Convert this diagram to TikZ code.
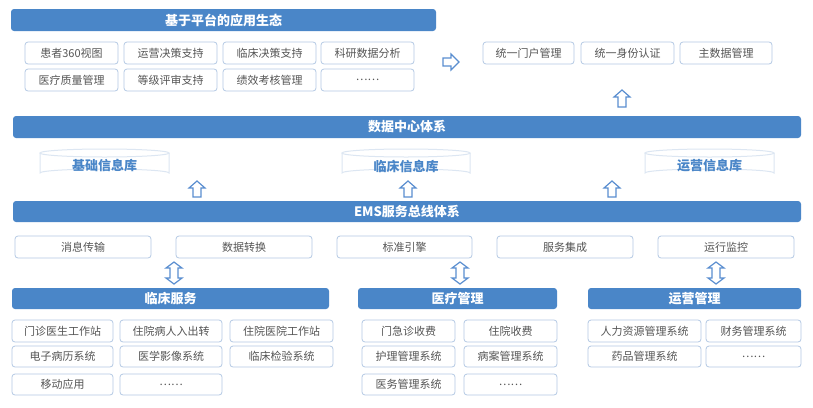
\documentclass[tikz,border=0pt]{standalone}
\usepackage{fontspec}
\setmainfont{Noto Sans CJK SC}
\definecolor{barblue}{HTML}{4A86C8}
\definecolor{bord}{HTML}{B5C9E4}
\definecolor{txt}{HTML}{555555}
\definecolor{arr}{HTML}{5A8ED0}
\definecolor{cyl}{HTML}{DCE6F2}
\tikzset{
 bar/.style={fill=barblue,draw=none,rounded corners=3pt,text=white,font=\fontsize{13}{15}\selectfont\bfseries},
 bx/.style={draw=bord,line width=0.8pt,rounded corners=3pt,text=txt,font=\fontsize{11}{13}\selectfont},
 harr/.style={draw=arr,line width=1.2pt,fill=white,line join=miter},
}
\newcommand{\bbox}[6]{\node[#1,minimum width={(#4-#2)*1pt},minimum height={(#6-#5)*1pt},inner sep=0pt] at ({(#2+#4)/2},{(#5+#6)/2}) {#3};}
\newcommand{\myuparr}[3]{%
 \draw[harr] (#1,#2) -- ++(8,7) -- ++(-4,0) -- (#1+4,#3) -- (#1-4,#3) -- (#1-4,#2+7) -- ++(-4,0) -- cycle;}
\newcommand{\mydarr}[3]{%
 \draw[harr] (#1,#2) -- ++(8,6) -- ++(-4,0) -- (#1+4,#3-6) -- ++(4,0) -- (#1,#3) -- (#1-8,#3-6) -- ++(4,0) -- (#1-4,#2+6) -- ++(-4,0) -- cycle;}
\newcommand{\mycyl}[4]{%
 \draw[draw=cyl,line width=1pt,fill=white] (#1,153) -- (#1,173) arc[start angle=180,end angle=360,x radius={(#2-#1)/2},y radius=4] -- (#2,153);
 \draw[draw=cyl,line width=1pt,fill=white] ({(#1+#2)/2},153) ellipse[x radius={(#2-#1)/2},y radius=4];
 \node[text=barblue,font=\fontsize{13}{15}\selectfont\bfseries] (#4) at ({(#1+#2)/2},166) {#3};}
\begin{document}
\begin{tikzpicture}[x=1pt,y=-1pt]
\useasboundingbox[fill=white] (0,0) rectangle (813,407);
\bbox{bar}{11}{基于平台的应用生态}{436}{9}{31}
\foreach \a/\b/\t in {25/118/患者360视图,124/217/运营决策支持,223/316/临床决策支持,321/414/科研数据分析}{\bbox{bx}{\a}{\t}{\b}{42}{64}}
\foreach \a/\b/\t in {25/118/医疗质量管理,124/217/等级评审支持,223/316/绩效考核管理,321/414/……}{\bbox{bx}{\a}{\t}{\b}{69}{91}}
\draw[harr] (459,62) -- (451,54) -- (451,58) -- (443,58) -- (443,66) -- (451,66) -- (451,70) -- cycle;
\foreach \a/\b/\t in {483/574/统一门户管理,581/674/统一身份认证,680/772/主数据管理}{\bbox{bx}{\a}{\t}{\b}{42}{64}}
\myuparr{622}{90}{107}
\bbox{bar}{13}{数据中心体系}{801}{116}{138}
\mycyl{40}{169}{基础信息库}{c1}
\mycyl{342}{470}{临床信息库}{c2}
\mycyl{645}{774}{运营信息库}{c3}
\myuparr{197}{181}{197}
\myuparr{408}{181}{197}
\myuparr{612}{181}{197}
\bbox{bar}{13}{EMS服务总线体系}{801}{201}{222}
\foreach \a/\b/\t in {15/151/消息传输,176/312/数据转换,337/472/标准引擎,497/633/服务集成,658/794/运行监控}{\bbox{bx}{\a}{\t}{\b}{236}{258}}
\mydarr{174}{262}{284}
\mydarr{460}{262}{284}
\mydarr{716}{262}{284}
\bbox{bar}{12}{临床服务}{329}{288}{309}
\bbox{bar}{358}{医疗管理}{557}{288}{309}
\bbox{bar}{588}{运营管理}{801}{288}{309}
\foreach \a/\b/\t in {12/113/门诊医生工作站,120/222/住院病人入出转,230/333/住院医院工作站}{\bbox{bx}{\a}{\t}{\b}{320}{342}}
\foreach \a/\b/\t in {12/113/电子病历系统,120/222/医学影像系统,230/333/临床检验系统}{\bbox{bx}{\a}{\t}{\b}{346}{367}}
\foreach \a/\b/\t in {12/113/移动应用,120/222/……}{\bbox{bx}{\a}{\t}{\b}{374}{395}}
\foreach \a/\b/\t in {362/455/门急诊收费,464/557/住院收费}{\bbox{bx}{\a}{\t}{\b}{320}{342}}
\foreach \a/\b/\t in {362/455/护理管理系统,464/557/病案管理系统}{\bbox{bx}{\a}{\t}{\b}{346}{367}}
\foreach \a/\b/\t in {362/455/医务管理系统,464/557/……}{\bbox{bx}{\a}{\t}{\b}{374}{395}}
\foreach \a/\b/\t in {588/701/人力资源管理系统,706/801/财务管理系统}{\bbox{bx}{\a}{\t}{\b}{320}{342}}
\foreach \a/\b/\t in {588/701/药品管理系统,706/801/……}{\bbox{bx}{\a}{\t}{\b}{346}{367}}
\end{tikzpicture}
\end{document}
